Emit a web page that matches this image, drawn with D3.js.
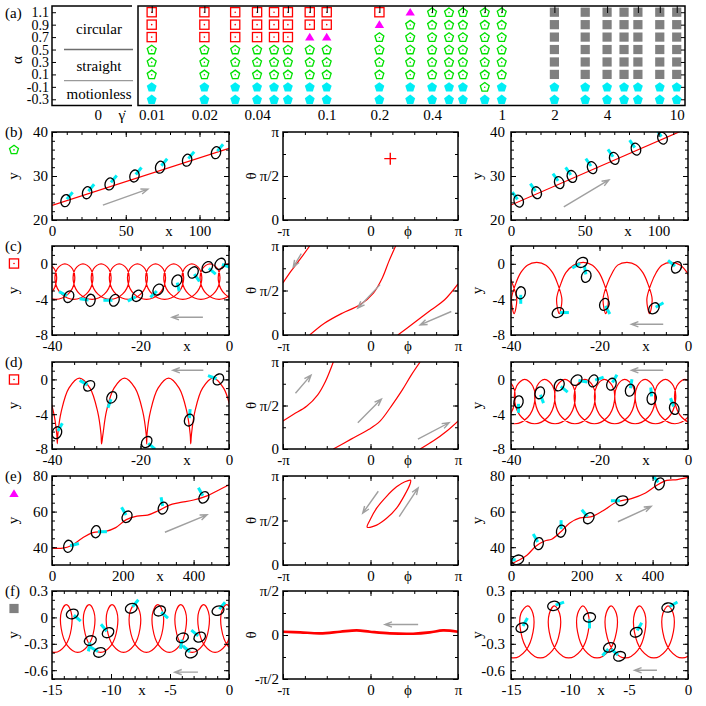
<!DOCTYPE html>
<html><head><meta charset="utf-8">
<script src="https://cdn.jsdelivr.net/npm/d3@7/dist/d3.min.js"></script>
<style>
html,body{margin:0;padding:0;background:#fff;}
svg text{font-family:'Liberation Serif','DejaVu Serif',serif !important;}
</style></head>
<body><svg id="fig" width="706" height="706" xmlns="http://www.w3.org/2000/svg"></svg>
<script>
// ---------------- panel (a) data ----------------
const gammaValues = [0.01,0.02,0.03,0.04,0.05,0.06,0.08,0.1,0.2,0.3,0.4,0.5,0.6,0.8,1,2,3,4,5,6,8,10];
const alphaValues = [1.1,0.9,0.7,0.5,0.3,0.1,-0.1,-0.3];
// state per column, top (alpha=1.1) to bottom (alpha=-0.3): C circular, T triangle, S straight, M motionless, G grey
const stateColumns = ["CCCSSSMM","CCCSSSMM","CCCSSSMM","CCCSSSMM","CCCSSSMM","CCCSSSMM","CCTSSSMM","CCTSSSMM",
  "CTSSSSMM","TSSSSSMM","SSSSSSMM","SSSSSSMM","SSSSSSMM","SSSSSSSM","SSSSSSMM",
  "GGGGGGMM","GGGGGGMM","GGGGGGMM","GGGGGGMM","GGGGGGMM","GGGGGGMM","GGGGGGMM"];
const gammaTickLabels = [0.01,0.02,0.04,0.1,0.2,0.4,1,2,4,10];
const gammaTicks = [0.01,0.02,0.04,0.06,0.08,0.1,0.2,0.4,0.6,0.8,1,2,4,6,8,10];
const regimeLabels = ["circular","straight","motionless"];
const regimeLabelAlpha = [0.82,0.22,-0.22];
const regimeBounds = [0.5,0.0];

// ---------------- rows (b)-(f) data ----------------
const rowNames = ["b","c","d","e","f"];
const rowLabels = ["(b)","(c)","(d)","(e)","(f)"];
const rowMarkers = ["S","C","C","T","G"];
// particles: [x, y, ellipse rotation (deg), tail direction (deg)]
const bLeftLine = [[0,23.3],[120,36.3]];
const bLeftParticles = [[9.2,24.4,15,-50],[23.8,26.2,15,-50],[39.1,28.2,15,-50],[55.9,30.0,15,-50],[73.3,32.0,15,-50],[91.6,33.6,15,-50],[111.2,35.3,15,-50]];
const bLeftArrow = [34.5,23.4,65,27.0];
const bMidFixedPoint = [0.71,2.19];
const bRightLine = [[0,23.4],[120,40.9]];
const bRightParticles = [[5.2,24.3,-20,-125],[17.4,26.2,-20,-125],[32.7,28.5,-20,-125],[41.3,29.9,-20,-125],[55,31.9,-20,-125],[70,34.0,-20,-125],[84.7,36.1,-20,-125],[102.7,38.6,-20,-125]];
const bRightArrow = [35.8,23.0,66.4,29.1];

const cLeftLoopTops = [3.9,-0.2,-4.3,-8.4,-12.5,-16.6,-20.7,-24.8,-28.9,-33.0,-37.1,-41.2,-45.3];
const cLeftLoopShape = [[0,0],[1.75,-0.59],[2.18,-2],[0.73,-3.41],[-2.04,-4],[-4.82,-3.41],[-6.26,-2],[-5.84,-0.59]];
const cLeftParticles = [[-36.2,-3.7,30,208],[-31.3,-4.1,10,188],[-25.9,-4.1,25,180],[-20.7,-3.6,35,151],[-16.0,-2.9,40,135],[-11.8,-1.9,30,77],[-8.1,-0.97,35,55],[-4.9,-0.37,40,40],[-2.0,0,40,20]];
const cLeftArrow = [-5.9,-6,-12.9,-6];
const cMidLines = [
  [[-3.142,1.838],[-2.854,2.252],[-2.534,2.667],[-2.182,3.142]],
  [[-2.182,0],[-1.655,0.415],[-1.015,0.771],[-0.376,1.067],[0.104,1.482],[0.424,2.015],[0.663,2.608],[0.903,3.142]],
  [[0.983,0],[1.543,0.415],[2.182,0.889],[2.662,1.245],[3.142,1.802]]];
const cMidArrows = [[-2.486,2.869,-2.774,2.395],[0.344,1.778,-0.456,0.948],[2.902,0.830,1.782,0.356]];
const cRightLoopCentres = [11.5,1.3,-8.7,-18.6,-29.1,-39.3,-49.5];
const cRightLoopShape = [[1.5,-1.0],[0.4,-2.2],[-0.6,-4.0],[0,-5.6],[0.6,-4.0],[-0.4,-2.2],[-1.5,-1.0],[-3.0,-0.15],[-5.1,0.15],[-7.2,-0.15]];
const cRightParticles = [[-37.8,-3.26,10,90],[-29.4,-5.48,60,0],[-24.0,0.15,60,150],[-23.0,-1.41,20,-100],[-18.9,-4.56,20,60],[-7.7,-5.0,40,-30],[-2.6,-0.4,30,-140]];
const cRightArrow = [-5.6,-6.8,-12.8,-6.8];

const dLeftCusps = [11.4,1.4,-8.65,-18.6,-28.8,-38.8,-48.8];
const dLeftArchShape = [[0,-7.4],[-0.12,-6.3],[-0.91,-3.65],[-2.62,-1.0],[-5.0,0.15],[-7.38,-1.0],[-9.09,-3.65],[-9.88,-6.3]];
const dLeftParticles = [[-38.9,-6.13,20,-60],[-31.6,-0.74,50,-150],[-26.5,-2.07,30,110],[-18.6,-7.2,40,40],[-9.0,-4.67,20,-85],[-2.4,0.0,40,-160]];
const dLeftArrow = [-5.8,1.05,-12.7,1.05];
const dMidLines = [
  [[-3.142,1.008],[-2.774,1.245],[-2.294,1.541],[-1.895,1.956],[-1.623,2.430],[-1.335,3.142]],
  [[-1.335,0],[-0.696,0.356],[-0.056,0.711],[0.343,1.008],[0.743,1.541],[1.143,2.134],[1.463,2.667],[1.782,3.142]],
  [[1.782,0],[2.262,0.296],[2.742,0.652],[3.142,1.008]]];
const dMidArrows = [[-2.694,2.015,-2.136,2.667],[-0.456,0.948,0.391,1.802],[1.702,0.356,2.822,0.948]];
const dRightLoopTops = [3.8,-0.7,-5.1,-9.7,-14.3,-18.9,-23.3,-27.8,-32.4,-36.9,-41.4,-45.9];
const dRightLoopShape = [[0,0],[1.82,-0.75],[2.25,-2.55],[0.70,-4.35],[-2.25,-5.1],[-5.2,-4.35],[-6.75,-2.55],[-6.32,-0.75]];
const dRightParticles = [[-38.3,-2.58,10,90],[-33.5,-1.54,20,70],[-29.1,-0.66,30,40],[-25.2,-0.09,50,10],[-21.4,-0.17,20,-20],[-17.3,-0.55,20,-60],[-13.1,-1.24,15,-80],[-8.2,-2.19,10,-95],[-3.1,-3.34,-20,-110]];
const dRightArrow = [-5.6,1.05,-12.8,1.05];

const eLeftCurve = [[0,39.5],[30,39.5],[55,41],[85,45],[115,48.2],[150,48.8],[180,51],[210,55.5],[240,57.5],[270,58],[300,60.5],[330,63.5],[360,65],[400,66.5],[440,69],[470,72],[500,75]];
const eLeftParticles = [[46,40.5,10,-15],[124,48.7,10,0],[212,57.1,30,-120],[313.6,62.0,20,-100],[429,68.0,30,-120]];
const eLeftArrow = [319,48.4,438,58.2];
const eMidLoop = [[-0.12,1.34],[-0.018,1.589],[0.2205,2.007],[0.578,2.425],[0.936,2.759],[1.234,2.938],[1.44,2.99],[1.413,2.843],[1.234,2.485],[0.936,2.007],[0.578,1.648],[0.2205,1.409]];
const eMidArrows = [[0.280,2.604,-0.280,1.828],[1.031,1.708,1.711,2.724]];
const eRightCurve = [[0,30.5],[20,32.5],[45,35.5],[70,40.5],[95,43.5],[115,44.5],[140,48.5],[165,53.5],[195,56.5],[225,57],[260,60.5],[300,65.5],[340,67.3],[380,70.5],[410,74.5],[440,77.5],[470,78],[500,79.2]];
const eRightParticles = [[18.9,32.9,70,180],[78.3,42.0,10,-120],[141.5,49.0,10,-90],[219.8,56.3,40,-130],[313.2,66.1,70,180],[419.8,75.6,20,-130]];
const eRightArrow = [302,54.3,396,62.9];

const fLeftLoopTops = [1.73,-0.21,-2.15,-4.09,-6.03,-7.97,-9.91,-11.85,-13.79,-15.73];
const fLeftLoopShape = [[0,0.146],[0.40,0.066],[0.43,-0.126],[-0.08,-0.318],[-0.97,-0.398],[-1.86,-0.318],[-2.37,-0.126],[-2.35,0.066]];
const fLeftParticles = [[-13.28,0.039,70,40],[-11.75,-0.263,70,100],[-10.96,-0.398,70,-150],[-10.25,-0.174,60,-130],[-8.28,0.104,70,-50],[-5.88,0.073,60,40],[-3.95,-0.232,70,100],[-3.19,-0.405,70,-140],[-2.48,-0.224,60,-140],[-0.93,0.077,70,-50]];
const fLeftArrow = [-2.63,-0.622,-4.6,-0.622];
const fMidLine = [[-3.142,0.118],[-2.522,0.094],[-1.806,0.059],[-1.091,0.118],[-0.495,0.165],[-0.018,0.118],[0.698,0.059],[1.532,0.047],[2.128,0.094],[2.605,0.165],[3.142,0.118]];
const fMidArrow = [1.711,0.377,0.518,0.377];
const fRightLoopTops = [0.71,-1.69,-4.10,-6.51,-8.91,-11.32,-13.58,-15.98];
const fRightLoopShape = [[0,0.131],[0.44,0.044],[0.45,-0.165],[-0.16,-0.374],[-1.2,-0.461],[-2.24,-0.374],[-2.85,-0.165],[-2.84,0.044]];
const fRightParticles = [[-14.07,-0.116,70,-60],[-11.38,0.131,80,-20],[-8.35,0.0,80,90],[-6.65,-0.341,70,130],[-5.80,-0.442,70,-140],[-4.39,-0.169,70,-60],[-1.70,0.112,80,-30]];
const fRightArrow = [-2.63,-0.6,-4.53,-0.6];

// ---------------- styling / layout ----------------
const FONT = "'Liberation Serif','DejaVu Serif',serif";
const RED = "#ff0000", GREEN = "#00e000", CYAN = "#00eef5", MAGENTA = "#ff00ff", GREY = "#808080", ARROW = "#a0a0a0";
const COLS = {L:[52,229], M:[283,458], R:[511,688]};
const ROWS = {b:[132,220], c:[246,335], d:[362,449], e:[476,565], f:[591,679]};
const PI = Math.PI;

const svg = d3.select("#fig");
svg.append("rect").attr("width",706).attr("height",706).attr("fill","#fff");
const defs = svg.append("defs");
const layerPlot = svg.append("g");
const layerAxes = svg.append("g").attr("font-family",FONT);

function txt(x,y,s,opt={}){
  const t = layerAxes.append("text").attr("x",x).attr("y",y).text(s)
    .attr("font-family",FONT).attr("font-size",opt.size||15)
    .attr("text-anchor",opt.anchor||"middle").attr("fill","#000");
  if(opt.rot) t.attr("transform",`rotate(${opt.rot},${x},${y})`);
  return t;
}
function pentagon(cx,cy,r){
  const pts = d3.range(5).map(k=>{const a=(-90+72*k)*PI/180; return [cx+r*Math.cos(a), cy+r*Math.sin(a)];});
  return "M"+pts.map(p=>p.join(",")).join("L")+"Z";
}
function marker(g,type,cx,cy){
  if(type==="C"){
    g.append("rect").attr("x",cx-4.6).attr("y",cy-4.6).attr("width",9.2).attr("height",9.2).attr("fill","none").attr("stroke",RED).attr("stroke-width",1.3);
    g.append("circle").attr("cx",cx).attr("cy",cy).attr("r",0.8).attr("fill",RED);
  } else if(type==="S"){
    g.append("path").attr("d",pentagon(cx,cy+0.4,4.7)).attr("fill","none").attr("stroke",GREEN).attr("stroke-width",1.3);
    g.append("circle").attr("cx",cx).attr("cy",cy+0.4).attr("r",0.8).attr("fill",GREEN);
  } else if(type==="M"){
    g.append("path").attr("d",pentagon(cx,cy+0.5,5.2)).attr("fill",CYAN);
  } else if(type==="T"){
    g.append("path").attr("d",`M${cx},${cy-4.3}L${cx+4.7},${cy+3.4}L${cx-4.7},${cy+3.4}Z`).attr("fill",MAGENTA);
  } else if(type==="G"){
    g.append("rect").attr("x",cx-4.6).attr("y",cy-4.6).attr("width",9.2).attr("height",9.2).attr("fill",GREY);
  }
}
function styleTicks(g,size){
  g.attr("font-family",FONT);
  g.selectAll(".domain").remove();
  g.selectAll(".tick line").attr("stroke","#000");
  g.selectAll(".tick text").attr("font-family",FONT).attr("font-size",size).attr("fill","#000");
}

// ---------------- panel (a) ----------------
const A = {x0:138, x1:685, y0:6, y1:105.5, bx0:52, bx1:132};
const xg = d3.scaleLog().domain([0.00835,11.15]).range([A.x0,A.x1]);
const ya = d3.scaleLinear().domain([-0.4,1.2]).range([A.y1,A.y0]);
const aG = layerPlot.append("g");
const cells = [];
gammaValues.forEach((gm,i)=>alphaValues.forEach((al,j)=>cells.push({g:gm,a:al,s:stateColumns[i][j]})));
aG.selectAll("g.cell").data(cells).join("g").attr("class","cell").each(function(d){ marker(d3.select(this), d.s, xg(d.g), ya(d.a)); });

const aAx = layerAxes.append("g");
function putAxis(parent,gen,tx,ty){ return parent.append("g").attr("transform",`translate(${tx},${ty})`).call(gen); }
putAxis(aAx, d3.axisTop(xg).tickValues(gammaTicks).tickSize(-7).tickFormat(()=>""), 0, A.y0);
putAxis(aAx, d3.axisBottom(xg).tickValues(gammaTickLabels).tickSize(0).tickPadding(4).tickFormat(d=>String(d)), 0, A.y1);
putAxis(aAx, d3.axisRight(ya).tickValues(alphaValues).tickSize(-4).tickFormat(()=>""), A.x1, 0);
const aLeft = putAxis(aAx, d3.axisLeft(ya).tickValues(alphaValues).tickSize(-4).tickPadding(3).tickFormat(d=>d.toFixed(1)), A.bx0, 0);
styleTicks(aAx,15);
aLeft.selectAll(".tick text").attr("font-size",14);
aAx.append("rect").attr("x",A.x0).attr("y",A.y0).attr("width",A.x1-A.x0).attr("height",A.y1-A.y0).attr("fill","none").attr("stroke","#000").attr("stroke-width",1.5);
aAx.append("path").attr("d",`M${A.bx1},${A.y0}H${A.bx0}V${A.y1}H${A.bx1}`).attr("fill","none").attr("stroke","#000").attr("stroke-width",1.5);
regimeBounds.forEach((b,i)=>aAx.append("line").attr("x1",64).attr("x2",133).attr("y1",ya(b)).attr("y2",ya(b)).attr("stroke",i===0?"#6e6e6e":"#9a9a9a").attr("stroke-width",1.4));
regimeLabels.forEach((s,i)=>txt(99, ya(regimeLabelAlpha[i])+4.5, s));
txt(5,18,"(a)",{anchor:"start"});
txt(21.5,60,"α",{rot:-90});
txt(98.3,120,"0");
txt(121.7,120,"\u03B3\u0307");

// ---------------- generic panels ----------------
function panel(col,row,xDom,yDom){
  const [x0,x1]=COLS[col],[y0,y1]=ROWS[row];
  const x=d3.scaleLinear().domain(xDom).range([x0,x1]);
  const y=d3.scaleLinear().domain(yDom).range([y1,y0]);
  const id=`clip-${col}${row}`;
  defs.append("clipPath").attr("id",id).append("rect").attr("x",x0).attr("y",y0).attr("width",x1-x0).attr("height",y1-y0);
  const g=layerPlot.append("g").attr("clip-path",`url(#${id})`);
  return {x,y,g,x0,x1,y0,y1,col,row};
}
function axes(p,ax){
  const g=layerAxes.append("g");
  putAxis(g,d3.axisBottom(p.x).tickValues(ax.xMajor).tickSize(-5).tickPadding(5).tickFormat(ax.xFmt),0,p.y1);
  putAxis(g,d3.axisBottom(p.x).tickValues(ax.xMinor).tickSize(-3).tickFormat(()=>""),0,p.y1);
  putAxis(g,d3.axisTop(p.x).tickValues(ax.xMajor).tickSize(-5).tickFormat(()=>""),0,p.y0);
  putAxis(g,d3.axisTop(p.x).tickValues(ax.xMinor).tickSize(-3).tickFormat(()=>""),0,p.y0);
  putAxis(g,d3.axisLeft(p.y).tickValues(ax.yMajor).tickSize(-5).tickPadding(ax.yPad).tickFormat(ax.yFmt),p.x0,0);
  putAxis(g,d3.axisLeft(p.y).tickValues(ax.yMinor).tickSize(-3).tickFormat(()=>""),p.x0,0);
  putAxis(g,d3.axisRight(p.y).tickValues(ax.yMajor).tickSize(-5).tickFormat(()=>""),p.x1,0);
  putAxis(g,d3.axisRight(p.y).tickValues(ax.yMinor).tickSize(-3).tickFormat(()=>""),p.x1,0);
  styleTicks(g,15);
  g.append("rect").attr("x",p.x0).attr("y",p.y0).attr("width",p.x1-p.x0).attr("height",p.y1-p.y0).attr("fill","none").attr("stroke","#000").attr("stroke-width",1.5);
  const base = p.y1+15.5, midY=(p.y0+p.y1)/2;
  if(p.col==="M"){ txt(408,base,"ϕ"); txt(256,midY,"θ",{rot:-90}); }
  else { txt(ax.xLabelX + (p.col==="R"?459:0), base, "x"); txt(p.col==="L"?18:482, midY, "y",{rot:-90}); }
}
function curve(p,pts,w=1.2,closed=false){
  const gen=d3.line().x(d=>p.x(d[0])).y(d=>p.y(d[1])).curve(closed?d3.curveCatmullRomClosed.alpha(0.5):d3.curveCatmullRom.alpha(0.5));
  p.g.append("path").attr("d",gen(pts)).attr("fill","none").attr("stroke",RED).attr("stroke-width",w);
}
function arrow(p,[a,b,c,d]){
  const X1=p.x(a),Y1=p.y(b),X2=p.x(c),Y2=p.y(d);
  const t=Math.atan2(Y2-Y1,X2-X1),L=7.5,s=0.36;
  const h1=[X2-L*Math.cos(t-s),Y2-L*Math.sin(t-s)],h2=[X2-L*Math.cos(t+s),Y2-L*Math.sin(t+s)];
  p.g.append("path").attr("d",`M${X1},${Y1}L${X2},${Y2}M${h1}L${X2},${Y2}L${h2}`).attr("fill","none").attr("stroke",ARROW).attr("stroke-width",1.4);
}
function particles(p,list){
  list.forEach(([px,py,rot,tail])=>{
    const cx=p.x(px),cy=p.y(py),a=tail*PI/180;
    p.g.append("line").attr("x1",cx+2*Math.cos(a)).attr("y1",cy+2*Math.sin(a)).attr("x2",cx+11*Math.cos(a)).attr("y2",cy+11*Math.sin(a)).attr("stroke",CYAN).attr("stroke-width",3);
  });
  list.forEach(([px,py,rot])=>{
    const cx=p.x(px),cy=p.y(py);
    p.g.append("ellipse").attr("cx",cx).attr("cy",cy).attr("rx",4.6).attr("ry",6.1).attr("transform",`rotate(${rot},${cx},${cy})`).attr("fill","none").attr("stroke","#000").attr("stroke-width",1.3);
  });
}
const fromTemplate = (anchors,shape)=>anchors.flatMap(T=>shape.map(([dx,dy])=>[T+dx,dy]));
const num = d=>String(d);
const phiAx = {xMajor:[-PI,0,PI], xMinor:d3.range(-4,5).map(k=>k*PI/4), xFmt:(d,i)=>["-π","0","π"][i],
  yMajor:[0,PI/2,PI], yMinor:d3.range(0,5).map(k=>k*PI/4), yFmt:(d,i)=>["0","π/2","π"][i], yPad:4};

// row labels and markers
rowNames.forEach((r,i)=>{
  txt(5,ROWS[r][0]+5,rowLabels[i],{anchor:"start"});
  marker(layerAxes,rowMarkers[i],14,ROWS[r][0]+17.5);
});

// ---- row (b)
const bAx = {xMajor:[0,50,100], xMinor:d3.range(0,121,10), xFmt:num, yMajor:[20,30,40], yMinor:d3.range(20,41,2), yFmt:num, xLabelX:169};
let p = panel("L","b",[0,120],[20,40]);
curve(p,bLeftLine); arrow(p,bLeftArrow); particles(p,bLeftParticles); axes(p,{...bAx,yPad:4});
p = panel("M","b",[-PI,PI],[0,PI]);
p.g.append("path").attr("d",`M${p.x(bMidFixedPoint[0])-6},${p.y(bMidFixedPoint[1])}h12M${p.x(bMidFixedPoint[0])},${p.y(bMidFixedPoint[1])-6}v12`).attr("stroke",RED).attr("stroke-width",1.4);
axes(p,phiAx);
p = panel("R","b",[0,120],[20,40]);
curve(p,bRightLine); arrow(p,bRightArrow); particles(p,bRightParticles); axes(p,{...bAx,yPad:6});

// ---- row (c)
const cdAx = {xMajor:[-40,-20,0], xMinor:d3.range(-40,1,5), xFmt:num, yMajor:[-8,-4,0], yMinor:d3.range(-8,3,1), yFmt:num, xLabelX:187};
p = panel("L","c",[-40,0],[-8,2]);
curve(p,fromTemplate(cLeftLoopTops,cLeftLoopShape)); arrow(p,cLeftArrow); particles(p,cLeftParticles); axes(p,{...cdAx,yPad:4});
p = panel("M","c",[-PI,PI],[0,PI]);
cMidLines.forEach(l=>curve(p,l)); cMidArrows.forEach(a=>arrow(p,a)); axes(p,phiAx);
p = panel("R","c",[-40,0],[-8,2]);
curve(p,fromTemplate(cRightLoopCentres,cRightLoopShape)); arrow(p,cRightArrow); particles(p,cRightParticles); axes(p,{...cdAx,yPad:6});

// ---- row (d)
p = panel("L","d",[-40,0],[-8,2]);
curve(p,fromTemplate(dLeftCusps,dLeftArchShape)); arrow(p,dLeftArrow); particles(p,dLeftParticles); axes(p,{...cdAx,yPad:4});
p = panel("M","d",[-PI,PI],[0,PI]);
dMidLines.forEach(l=>curve(p,l)); dMidArrows.forEach(a=>arrow(p,a)); axes(p,phiAx);
p = panel("R","d",[-40,0],[-8,2]);
curve(p,fromTemplate(dRightLoopTops,dRightLoopShape)); arrow(p,dRightArrow); particles(p,dRightParticles); axes(p,{...cdAx,yPad:6});

// ---- row (e)
const eAx = {xMajor:[0,200,400], xMinor:d3.range(0,501,50), xFmt:num, yMajor:[40,60,80], yMinor:d3.range(30,81,5), yFmt:num, xLabelX:160};
p = panel("L","e",[0,500],[30,80]);
curve(p,eLeftCurve); arrow(p,eLeftArrow); particles(p,eLeftParticles); axes(p,{...eAx,yPad:4});
p = panel("M","e",[-PI,PI],[0,PI]);
curve(p,eMidLoop,1.2,true); eMidArrows.forEach(a=>arrow(p,a)); axes(p,phiAx);
p = panel("R","e",[0,500],[30,80]);
curve(p,eRightCurve); arrow(p,eRightArrow); particles(p,eRightParticles); axes(p,{...eAx,yPad:6});

// ---- row (f)
const fAx = {xMajor:[-15,-10,-5,0], xMinor:d3.range(-15,1,1), xFmt:num, yMajor:[-0.6,-0.3,0,0.3], yMinor:[-0.7,-0.6,-0.5,-0.4,-0.3,-0.2,-0.1,0,0.1,0.2,0.3], yFmt:num, xLabelX:142};
p = panel("L","f",[-15,0],[-0.7,0.3]);
curve(p,fromTemplate(fLeftLoopTops,fLeftLoopShape)); arrow(p,fLeftArrow); particles(p,fLeftParticles); axes(p,{...fAx,yPad:4});
p = panel("M","f",[-PI,PI],[-PI/2,PI/2]);
curve(p,fMidLine,2.6); arrow(p,fMidArrow);
axes(p,{...phiAx, yMajor:[-PI/2,0,PI/2], yMinor:d3.range(-2,3).map(k=>k*PI/4), yFmt:(d,i)=>["-π/2","0","π/2"][i]});
p = panel("R","f",[-15,0],[-0.7,0.3]);
curve(p,fromTemplate(fRightLoopTops,fRightLoopShape)); arrow(p,fRightArrow); particles(p,fRightParticles); axes(p,{...fAx,yPad:6});
</script></body></html>
